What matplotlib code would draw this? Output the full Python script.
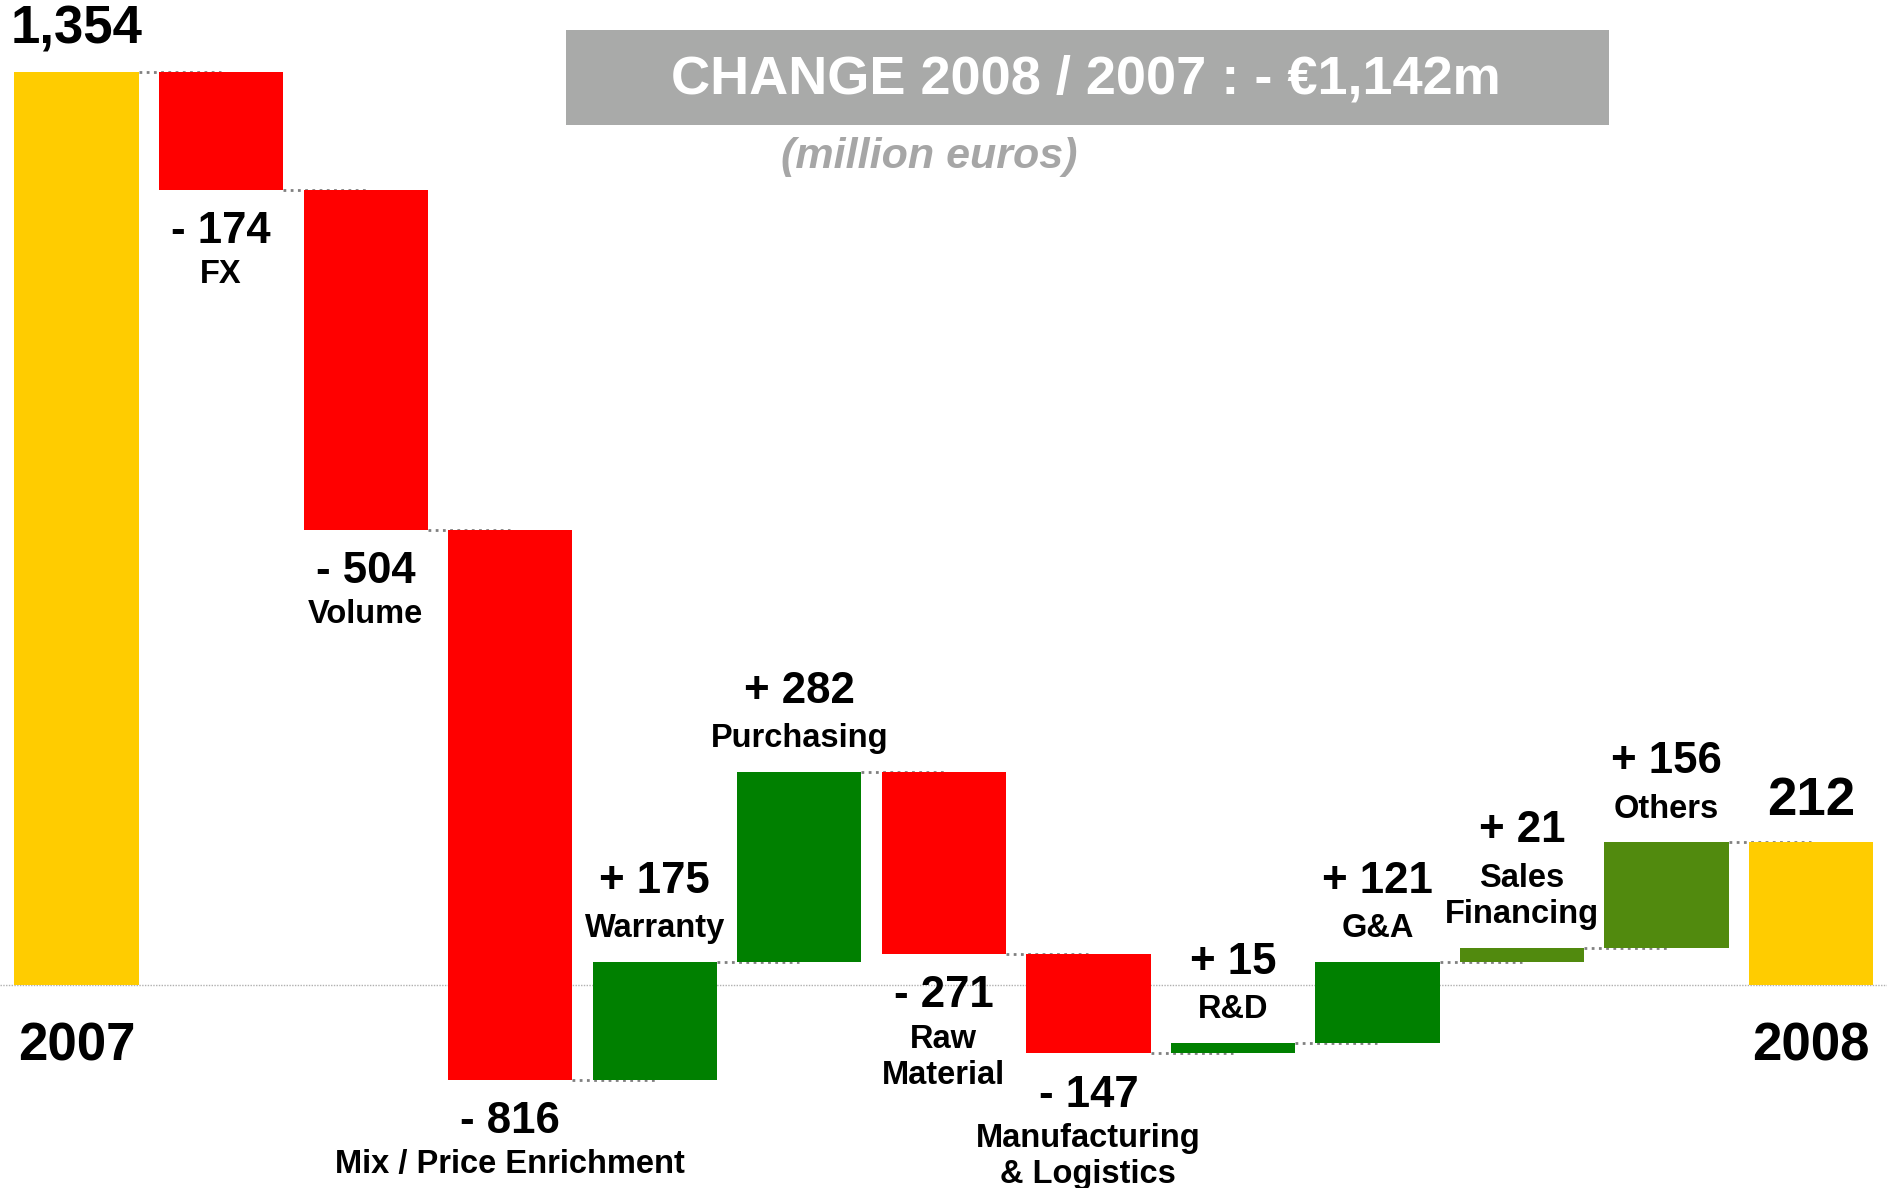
import numpy as np
import matplotlib
matplotlib.use("Agg")
import matplotlib.pyplot as plt
from matplotlib.patches import Rectangle

plt.rcParams['font.family'] = ['Liberation Sans', 'DejaVu Sans']

# data (million euros)
start_label = "2007"
end_label = "2008"
start_value = 1354
names = ["FX", "Volume", "Mix / Price Enrichment", "Warranty", "Purchasing",
         "Raw\nMaterial", "Manufacturing\n& Logistics", "R&D", "G&A",
         "Sales\nFinancing", "Others"]
deltas = [-174, -504, -816, 175, 282, -271, -147, 15, 121, 21, 156]
delta_labels = ["- 174", "- 504", "- 816", "+ 175", "+ 282", "- 271", "- 147",
                "+ 15", "+ 121", "+ 21", "+ 156"]
total_labels = ["1,354", "212"]

YELLOW = "#FFCC00"
RED = "#FF0000"
GREEN = "#008000"
OLIVE = "#518A0E"
pos_colors = [GREEN, GREEN, GREEN, GREEN, OLIVE, OLIVE]

end_value = start_value + sum(deltas)

fig = plt.figure(figsize=(18.87, 11.88), dpi=100)
ax = fig.add_axes([0, 0, 1, 1])
ax.set_xlim(-0.53, 12.525)
ax.set_ylim(-300.6, 1461.3)
ax.axis("off")

w = 0.86
n = len(deltas) + 2

# baseline
ax.axhline(0, color="#B0B0B0", lw=1, ls=(0, (1, 1)), zorder=0)

# start bar
ax.bar(0, start_value, width=w, color=YELLOW, zorder=2)
level = start_value
levels = [level]
pos_i = 0
for i, d in enumerate(deltas):
    x = i + 1
    bottom = min(level, level + d)
    if d < 0:
        col = RED
    else:
        col = pos_colors[pos_i]
        pos_i += 1
    ax.bar(x, abs(d), bottom=bottom, width=w, color=col, zorder=2)
    level += d
    levels.append(level)
ax.bar(n - 1, end_value, width=w, color=YELLOW, zorder=2)

# connectors
for i, lv in enumerate(levels):
    ax.plot([i + w / 2, i + 1], [lv, lv], color="#808080", lw=2,
            ls=(0, (1, 1.6)), zorder=1)

# labels on totals
ax.annotate(total_labels[0], (0, start_value), xytext=(0, 31),
            textcoords="offset points", ha="center", va="center",
            fontsize=38, fontweight="bold")
ax.annotate(total_labels[1], (n - 1, end_value), xytext=(0, 30),
            textcoords="offset points", ha="center", va="center",
            fontsize=38, fontweight="bold")
for x, lab in [(0, start_label), (n - 1, end_label)]:
    ax.annotate(lab, (x, 0), xytext=(0, -44), textcoords="offset points",
                ha="center", va="center", fontsize=38, fontweight="bold")

# labels on steps
step = 26
name_fs = 23.5
val_fs = 31.5
prev = start_value
for i, (d, nm, vl) in enumerate(zip(deltas, names, delta_labels)):
    x = i + 1
    lines = nm.split("\n")
    y = prev + d
    if d < 0:
        ax.annotate(vl, (x, y), xytext=(0, -30), textcoords="offset points",
                    ha="center", va="center", fontsize=val_fs, fontweight="bold")
        for k, ln in enumerate(lines):
            ax.annotate(ln, (x, y), xytext=(0, -61 - k * step),
                        textcoords="offset points", ha="center", va="center",
                        fontsize=name_fs, fontweight="bold")
    else:
        for k, ln in enumerate(reversed(lines)):
            ax.annotate(ln, (x, y), xytext=(0, 24 + k * step),
                        textcoords="offset points", ha="center", va="center",
                        fontsize=name_fs, fontweight="bold")
        ax.annotate(vl, (x, y), xytext=(0, 24 + (len(lines) - 1) * step + 34),
                    textcoords="offset points", ha="center", va="center",
                    fontsize=val_fs, fontweight="bold")
    prev += d

# title box
ax.add_patch(Rectangle((0.2997, 0.8946), 0.553, 0.0801, transform=ax.transAxes,
                       facecolor="#A9AAA9", edgecolor="none", zorder=3))
ax.text(0.5757, 0.933, "CHANGE 2008 / 2007 : - €1,142m", transform=ax.transAxes,
        ha="center", va="center", fontsize=39, fontweight="bold",
        color="white", zorder=4)
ax.text(0.4923, 0.868, "(million euros)", transform=ax.transAxes,
        ha="center", va="center", fontsize=31, fontweight="bold",
        fontstyle="italic", color="#A6A6A6")

fig.savefig("out.png", dpi=100)
